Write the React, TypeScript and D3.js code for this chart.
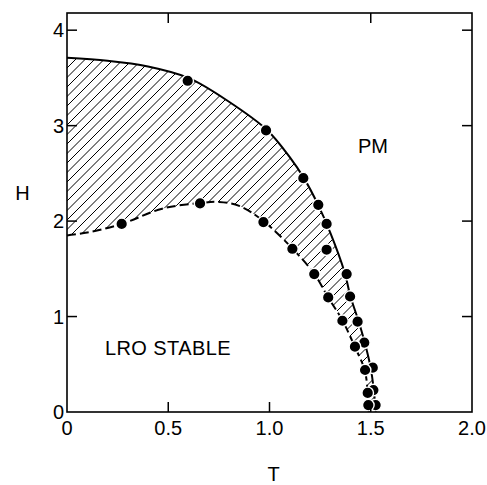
import * as d3 from "d3";
import React from "react";

// boundary curves (T, H)
const upperT = [0, 0.2, 0.4, 0.6, 0.8, 0.99, 1.1, 1.17, 1.24, 1.3, 1.37, 1.4, 1.44, 1.47, 1.5, 1.515, 1.525];
const upperH = [3.71, 3.68, 3.62, 3.5, 3.25, 2.95, 2.67, 2.45, 2.17, 1.88, 1.47, 1.21, 0.95, 0.73, 0.46, 0.23, 0];
const lowerT = [0, 0.1, 0.27, 0.47, 0.66, 0.75, 0.85, 0.97, 1.11, 1.22, 1.29, 1.36, 1.42, 1.47, 1.485, 1.49];
const lowerH = [1.85, 1.88, 1.97, 2.13, 2.19, 2.2, 2.16, 2.0, 1.72, 1.45, 1.2, 0.96, 0.69, 0.44, 0.2, 0];

// data points
const upperDotT = [0.596, 0.983, 1.167, 1.241, 1.282, 1.282, 1.381, 1.398, 1.435, 1.468, 1.51, 1.513, 1.524];
const upperDotH = [3.47, 2.95, 2.45, 2.17, 1.97, 1.7, 1.445, 1.21, 0.946, 0.726, 0.464, 0.23, 0.073];
const lowerDotT = [0.27, 0.657, 0.97, 1.113, 1.221, 1.29, 1.36, 1.422, 1.472, 1.485, 1.488];
const lowerDotH = [1.97, 2.185, 1.99, 1.71, 1.445, 1.2, 0.956, 0.684, 0.44, 0.2, 0.073];

const xTicks = [0, 0.5, 1.0, 1.5, 2.0];
const xTickLabels = ["0", "0.5", "1.0", "1.5", "2.0"];
const yTicks = [0, 1, 2, 3, 4];
const bottomMarks = [0.5, 1.0, 1.5];
const topMarks = [0.5, 1.5];
const sideMarks = [1, 2, 3, 4];

const W = 487, H = 485;
const font = "'Liberation Sans', Arial, sans-serif";

export default function App() {
  const x = d3.scaleLinear().domain([0, 2]).range([67, 472]);
  const y = d3.scaleLinear().domain([0, 4.18]).range([412, 13]);
  const tick = 10;

  const upper = upperT.map((t, i) => [t, upperH[i]] as [number, number]);
  const lower = lowerT.map((t, i) => [t, lowerH[i]] as [number, number]);
  const line = d3.line<[number, number]>()
    .x(d => x(d[0]))
    .y(d => y(d[1]))
    .curve(d3.curveCatmullRom.alpha(0.5));

  const upperPath = line(upper) || "";
  const lowerPath = line(lower) || "";
  const lowerRev = (line(lower.slice().reverse()) || "").replace(/^M/, "L");
  const areaPath = upperPath + lowerRev + "Z";

  const hatch: number[] = d3.range(x(0) - 420, x(2), 9.5);

  const dots = upperDotT.map((t, i) => [t, upperDotH[i]])
    .concat(lowerDotT.map((t, i) => [t, lowerDotH[i]]));

  return (
    <svg width={W} height={H} style={{ position: "absolute", left: 0, top: 0 }}>
      <defs>
        <clipPath id="band">
          <path d={areaPath} />
        </clipPath>
      </defs>
      <rect x={0} y={0} width={W} height={H} fill="#fff" />

      {/* hatched band */}
      <g clipPath="url(#band)" stroke="#000" strokeWidth={1}>
        {hatch.map((k, i) => (
          <line key={i} x1={k} y1={y(0)} x2={k + 400} y2={y(0) - 400} />
        ))}
      </g>

      <path d={upperPath} fill="none" stroke="#000" strokeWidth={2} />
      <path d={lowerPath} fill="none" stroke="#000" strokeWidth={2} strokeDasharray="9 4" />

      {dots.map((d, i) => (
        <circle key={i} cx={x(d[0])} cy={y(d[1])} r={5.8} fill="#000" stroke="#fff" strokeWidth={1.4} />
      ))}

      {/* frame */}
      <rect x={x(0)} y={y(4.18)} width={x(2) - x(0)} height={y(0) - y(4.18)}
        fill="none" stroke="#000" strokeWidth={1.6} />
      <g stroke="#000" strokeWidth={1.5}>
        {bottomMarks.map(t => <line key={"b" + t} x1={x(t)} x2={x(t)} y1={y(0)} y2={y(0) - tick} />)}
        {topMarks.map(t => <line key={"t" + t} x1={x(t)} x2={x(t)} y1={y(4.18)} y2={y(4.18) + tick} />)}
        {sideMarks.map(h => <line key={"l" + h} x1={x(0)} x2={x(0) + tick} y1={y(h)} y2={y(h)} />)}
        {sideMarks.map(h => <line key={"r" + h} x1={x(2)} x2={x(2) - tick} y1={y(h)} y2={y(h)} />)}
      </g>

      <g fontFamily={font} fontSize={20} fill="#000">
        {xTicks.map((t, i) => (
          <text key={t} x={x(t)} y={435} textAnchor="middle">{xTickLabels[i]}</text>
        ))}
        {yTicks.map(h => (
          <text key={h} x={64} y={y(h) + 7} textAnchor="end">{h}</text>
        ))}
        <text x={22.5} y={200} textAnchor="middle">H</text>
        <text x={x(1.02)} y={481} textAnchor="middle">T</text>
        <text x={373} y={153} textAnchor="middle">PM</text>
        <text x={105} y={355} letterSpacing={0.4}>LRO STABLE</text>
      </g>
    </svg>
  );
}
